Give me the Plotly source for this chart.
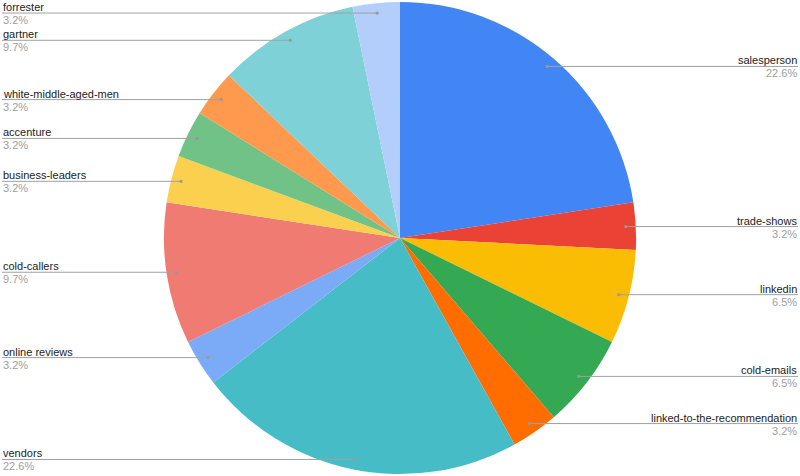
# Pie chart with leader-line labels (Google Sheets style)
import math
import plotly.graph_objects as go

# Data
categorias = ['salesperson', 'trade-shows', 'linkedin', 'cold-emails',
              'linked-to-the-recommendation', 'vendors', 'online reviews',
              'cold-callers', 'business-leaders', 'accenture',
              'white-middle-aged-men', 'gartner', 'forrester']
valores = [7, 1, 2, 2, 1, 7, 1, 3, 1, 1, 1, 3, 1]
colores = ['#4285F4', '#EA4335', '#FBBC04', '#34A853', '#FF6D01', '#46BDC6',
           '#7BAAF7', '#F07B72', '#FCD04F', '#71C287', '#FF994D', '#7ED1D7',
           '#B3CEFB']

W, H = 800, 476
cx, cy, R = W / 2, H / 2, H / 2
r_punto = 0.95 * R
color_linea = '#a0a0a0'

fig = go.Figure()
fig.add_trace(go.Pie(labels=categorias, values=valores, sort=False,
                     direction='clockwise', rotation=0,
                     marker=dict(colors=colores, line=dict(width=0)),
                     textinfo='none', hoverinfo='label+percent',
                     showlegend=False, domain=dict(x=[0, 1], y=[0.004, 0.996])))

# Etiquetas con lineas guia
total = sum(valores)
acumulado = 0
shapes = []
annotations = []
for nombre, v in zip(categorias, valores):
    ang = (acumulado + v / 2) / total * 2 * math.pi
    acumulado += v
    px = cx + r_punto * math.sin(ang)
    py = cy - r_punto * math.cos(ang)
    derecha = px >= cx
    x_fin = W - 2 if derecha else 2
    xp, yp = px / W, 1 - py / H
    xf = x_fin / W
    shapes.append(dict(type='line', xref='paper', yref='paper',
                       x0=xp, y0=yp, x1=xf, y1=yp,
                       line=dict(color=color_linea, width=1)))
    shapes.append(dict(type='circle', xref='paper', yref='paper',
                       x0=(px - 1.6) / W, x1=(px + 1.6) / W,
                       y0=1 - (py + 1.6) / H, y1=1 - (py - 1.6) / H,
                       fillcolor='#999999', line=dict(width=0)))
    anchor = 'right' if derecha else 'left'
    annotations.append(dict(x=xf, y=yp, xref='paper', yref='paper',
                            text=nombre, showarrow=False, xanchor=anchor,
                            yanchor='bottom', yshift=-1, borderpad=0,
                            font=dict(size=11, color='#222222')))
    annotations.append(dict(x=xf, y=yp, xref='paper', yref='paper',
                            text=f'{v / total * 100:.1f}%', showarrow=False,
                            xanchor=anchor, yanchor='top', yshift=0, borderpad=0,
                            font=dict(size=11, color='#9e9e9e')))

fig.update_layout(width=W, height=H, margin=dict(l=0, r=0, t=0, b=0),
                  paper_bgcolor='white', plot_bgcolor='white',
                  font=dict(family='Liberation Sans, Arial, sans-serif'),
                  shapes=shapes, annotations=annotations)

# Quitar el margen del body para que el grafico ocupe la ventana
fig.write_html("out.html", config={'displayModeBar': False},
               post_script="document.body.style.margin='0px';")
